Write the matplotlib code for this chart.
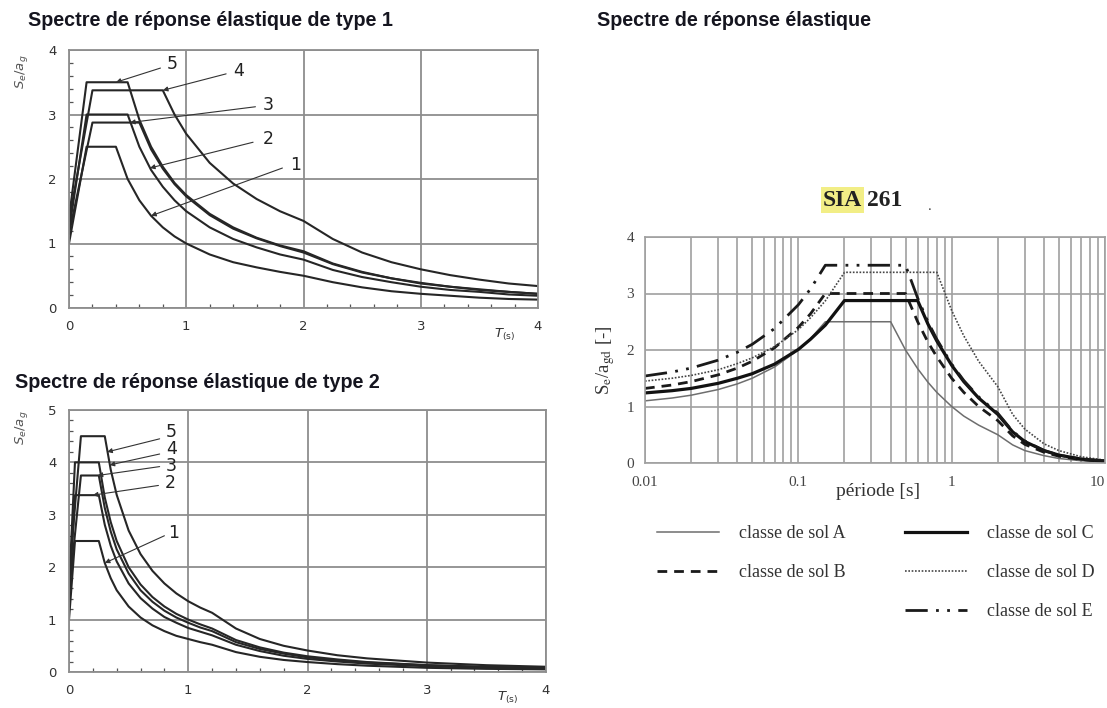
import matplotlib
matplotlib.use("Agg")
import matplotlib.pyplot as plt
from matplotlib.ticker import MultipleLocator, FixedLocator, FixedFormatter, NullFormatter, LogLocator
from matplotlib.lines import Line2D

# ---------------- data: Type 1 (top-left) ----------------
T1_1 = [0, 0.15, 0.4, 0.5, 0.6, 0.7, 0.8, 0.9, 1.0, 1.2, 1.4, 1.6, 1.8, 2.0, 2.25, 2.5, 2.75, 3.0, 3.25, 3.5, 3.75, 4.0]
S1_1 = [1.0, 2.5, 2.5, 2.0, 1.67, 1.43, 1.25, 1.11, 1.0, 0.83, 0.71, 0.63, 0.56, 0.5, 0.4, 0.32, 0.26, 0.22, 0.19, 0.16, 0.14, 0.13]
T1_2 = [0, 0.2, 0.6, 0.7, 0.8, 0.9, 1.0, 1.2, 1.4, 1.6, 1.8, 2.0, 2.25, 2.5, 2.75, 3.0, 3.25, 3.5, 3.75, 4.0]
S1_2 = [1.15, 2.875, 2.875, 2.46, 2.16, 1.92, 1.73, 1.44, 1.23, 1.08, 0.96, 0.86, 0.68, 0.55, 0.46, 0.38, 0.33, 0.28, 0.25, 0.22]
T1_3 = [0, 0.15, 0.5, 0.6, 0.7, 0.8, 0.9, 1.0, 1.2, 1.4, 1.6, 1.8, 2.0, 2.25, 2.5, 2.75, 3.0, 3.25, 3.5, 3.75, 4.0]
S1_3 = [1.2, 3.0, 3.0, 2.5, 2.14, 1.88, 1.67, 1.5, 1.25, 1.07, 0.94, 0.83, 0.75, 0.59, 0.48, 0.4, 0.33, 0.28, 0.25, 0.21, 0.19]
T1_4 = [0, 0.2, 0.8, 0.9, 1.0, 1.2, 1.4, 1.6, 1.8, 2.0, 2.25, 2.5, 2.75, 3.0, 3.25, 3.5, 3.75, 4.0]
S1_4 = [1.35, 3.375, 3.375, 3.0, 2.7, 2.25, 1.93, 1.69, 1.5, 1.35, 1.07, 0.86, 0.71, 0.6, 0.51, 0.44, 0.38, 0.34]
T1_5 = [0, 0.15, 0.5, 0.6, 0.7, 0.8, 0.9, 1.0, 1.2, 1.4, 1.6, 1.8, 2.0, 2.25, 2.5, 2.75, 3.0, 3.25, 3.5, 3.75, 4.0]
S1_5 = [1.4, 3.5, 3.5, 2.92, 2.5, 2.19, 1.94, 1.75, 1.46, 1.25, 1.09, 0.97, 0.88, 0.69, 0.56, 0.46, 0.39, 0.33, 0.29, 0.25, 0.22]

# ---------------- data: Type 2 (bottom-left) ----------------
T2_1 = [0, 0.05, 0.25, 0.3, 0.35, 0.4, 0.5, 0.6, 0.7, 0.8, 0.9, 1.0, 1.1, 1.2, 1.4, 1.6, 1.8, 2.0, 2.25, 2.5, 3.0, 3.5, 4.0]
S2_1 = [1.0, 2.5, 2.5, 2.08, 1.79, 1.56, 1.25, 1.04, 0.89, 0.78, 0.69, 0.63, 0.57, 0.52, 0.38, 0.29, 0.23, 0.19, 0.15, 0.12, 0.08, 0.06, 0.05]
T2_2 = [0, 0.05, 0.25, 0.3, 0.35, 0.4, 0.5, 0.6, 0.7, 0.8, 0.9, 1.0, 1.1, 1.2, 1.4, 1.6, 1.8, 2.0, 2.25, 2.5, 3.0, 3.5, 4.0]
S2_2 = [1.35, 3.375, 3.375, 2.81, 2.41, 2.11, 1.69, 1.41, 1.21, 1.05, 0.94, 0.84, 0.77, 0.7, 0.52, 0.4, 0.31, 0.25, 0.2, 0.16, 0.11, 0.08, 0.06]
T2_3 = [0, 0.1, 0.25, 0.3, 0.35, 0.4, 0.5, 0.6, 0.7, 0.8, 0.9, 1.0, 1.1, 1.2, 1.4, 1.6, 1.8, 2.0, 2.25, 2.5, 3.0, 3.5, 4.0]
S2_3 = [1.5, 3.75, 3.75, 3.13, 2.68, 2.34, 1.88, 1.56, 1.34, 1.17, 1.04, 0.94, 0.85, 0.78, 0.57, 0.44, 0.35, 0.28, 0.22, 0.18, 0.13, 0.09, 0.07]
T2_4 = [0, 0.05, 0.25, 0.3, 0.35, 0.4, 0.5, 0.6, 0.7, 0.8, 0.9, 1.0, 1.1, 1.2, 1.4, 1.6, 1.8, 2.0, 2.25, 2.5, 3.0, 3.5, 4.0]
S2_4 = [1.6, 4.0, 4.0, 3.33, 2.86, 2.5, 2.0, 1.67, 1.43, 1.25, 1.11, 1.0, 0.91, 0.83, 0.61, 0.47, 0.37, 0.3, 0.24, 0.19, 0.13, 0.1, 0.08]
T2_5 = [0, 0.1, 0.3, 0.35, 0.4, 0.5, 0.6, 0.7, 0.8, 0.9, 1.0, 1.1, 1.2, 1.4, 1.6, 1.8, 2.0, 2.25, 2.5, 3.0, 3.5, 4.0]
S2_5 = [1.8, 4.5, 4.5, 3.86, 3.38, 2.7, 2.25, 1.93, 1.69, 1.5, 1.35, 1.23, 1.13, 0.83, 0.63, 0.5, 0.41, 0.32, 0.26, 0.18, 0.13, 0.1]

# ---------------- data: SIA 261 (right, log x) ----------------
TA = [0.01, 0.015, 0.02, 0.03, 0.04, 0.05, 0.07, 0.1, 0.12, 0.15, 0.4, 0.5, 0.6, 0.7, 0.8, 1.0, 1.2, 1.5, 2.0, 2.5, 3.0, 4.0, 5.0, 7.0, 10.0]
SA = [1.1, 1.15, 1.2, 1.3, 1.4, 1.5, 1.7, 2.0, 2.2, 2.5, 2.5, 2.0, 1.67, 1.43, 1.25, 1.0, 0.83, 0.67, 0.5, 0.32, 0.22, 0.13, 0.08, 0.04, 0.02]
TB = [0.01, 0.015, 0.02, 0.03, 0.04, 0.05, 0.07, 0.1, 0.12, 0.15, 0.5, 0.6, 0.7, 0.8, 1.0, 1.2, 1.5, 2.0, 2.5, 3.0, 4.0, 5.0, 7.0, 10.0]
SB = [1.32, 1.38, 1.44, 1.56, 1.68, 1.8, 2.04, 2.4, 2.64, 3.0, 3.0, 2.5, 2.14, 1.88, 1.5, 1.25, 1.0, 0.75, 0.48, 0.33, 0.19, 0.12, 0.06, 0.03]
TC = [0.01, 0.015, 0.02, 0.03, 0.04, 0.05, 0.07, 0.1, 0.12, 0.15, 0.2, 0.6, 0.7, 0.8, 1.0, 1.2, 1.5, 2.0, 2.5, 3.0, 4.0, 5.0, 7.0, 10.0]
SC = [1.24, 1.28, 1.32, 1.41, 1.5, 1.58, 1.75, 2.01, 2.19, 2.44, 2.875, 2.875, 2.46, 2.16, 1.73, 1.44, 1.15, 0.86, 0.55, 0.38, 0.22, 0.14, 0.07, 0.03]
TD = [0.01, 0.015, 0.02, 0.03, 0.04, 0.05, 0.07, 0.1, 0.12, 0.15, 0.2, 0.8, 1.0, 1.2, 1.5, 2.0, 2.5, 3.0, 4.0, 5.0, 7.0, 10.0]
SD = [1.45, 1.5, 1.55, 1.65, 1.76, 1.86, 2.06, 2.36, 2.57, 2.87, 3.375, 3.375, 2.7, 2.25, 1.8, 1.35, 0.86, 0.6, 0.34, 0.22, 0.11, 0.05]
TE = [0.01, 0.015, 0.02, 0.03, 0.04, 0.05, 0.07, 0.1, 0.12, 0.15, 0.5, 0.6, 0.7, 0.8, 1.0, 1.2, 1.5, 2.0, 2.5, 3.0, 4.0, 5.0, 7.0, 10.0]
SE = [1.54, 1.61, 1.68, 1.82, 1.96, 2.1, 2.38, 2.8, 3.08, 3.5, 3.5, 2.92, 2.5, 2.19, 1.75, 1.46, 1.17, 0.88, 0.56, 0.39, 0.22, 0.14, 0.07, 0.04]

SIA_LABELS = ["classe de sol A", "classe de sol B", "classe de sol C", "classe de sol D", "classe de sol E"]
XTICK_R = [0.01, 0.1, 1, 10]
XTICK_R_LBL = ["0.01", "0.1", "1", "10"]

# curve labels: (label, arrow tip (T, S), arrow start (T, S), text position (T, S))
ANN1 = [("5", (0.40, 3.5), (0.78, 3.72), (0.88, 3.78)),
        ("4", (0.80, 3.375), (1.34, 3.63), (1.45, 3.68)),
        ("3", (0.52, 2.875), (1.59, 3.12), (1.70, 3.15)),
        ("2", (0.69, 2.17), (1.57, 2.57), (1.70, 2.62)),
        ("1", (0.70, 1.43), (1.82, 2.17), (1.93, 2.22))]
ANN2 = [("5", (0.32, 4.2), (0.76, 4.45), (0.86, 4.58)),
        ("4", (0.34, 3.95), (0.76, 4.16), (0.86, 4.26)),
        ("3", (0.24, 3.75), (0.76, 3.92), (0.86, 3.94)),
        ("2", (0.20, 3.375), (0.75, 3.56), (0.85, 3.60)),
        ("1", (0.30, 2.08), (0.80, 2.60), (0.88, 2.66))]

W, H = 1107, 708
fig = plt.figure(figsize=(W / 100, H / 100), dpi=100)


def add_ax(l, t, r, b):
    return fig.add_axes([l / W, 1 - b / H, (r - l) / W, (b - t) / H])


def px(x, y):
    return (x / W, 1 - y / H)


TITLE_KW = dict(fontfamily="Liberation Sans", fontweight="bold", fontsize=14.2, va="center", ha="left", color="#15151f")
fig.text(*px(28, 21), "Spectre de réponse élastique de type 1", **TITLE_KW)
fig.text(*px(15, 382), "Spectre de réponse élastique de type 2", **TITLE_KW)
fig.text(*px(597, 21), "Spectre de réponse élastique", **TITLE_KW)

GRID_C = "#8e8e8e"


def left_panel(ax, ymax, series, ann):
    for T, S in series:
        ax.plot(T, S, color="#262626", lw=1.5)
    ax.set_xlim(0, 4)
    ax.set_ylim(0, ymax)
    ax.xaxis.set_major_locator(MultipleLocator(1))
    ax.yaxis.set_major_locator(MultipleLocator(1))
    ax.xaxis.set_minor_locator(MultipleLocator(0.2))
    ax.yaxis.set_minor_locator(MultipleLocator(0.2))
    ax.tick_params(which="minor", direction="in", length=3, width=0.9, color="#555")
    ax.tick_params(which="major", direction="in", length=0, labelsize=9.5, labelcolor="#333", pad=9)
    ax.grid(which="major", color=GRID_C, lw=1.3)
    ax.set_axisbelow(True)
    for sp in ax.spines.values():
        sp.set_color(GRID_C)
        sp.set_linewidth(1.3)
    for lab, tip, start, tpos in ann:
        ax.annotate("", xy=tip, xytext=start,
                    arrowprops=dict(arrowstyle="-|>", color="#333", lw=0.8, mutation_scale=7,
                                    shrinkA=0, shrinkB=0))
        ax.text(tpos[0], tpos[1], lab, fontsize=12.5, ha="center", va="center", color="#222",
                fontfamily="DejaVu Sans")


ax1 = add_ax(69, 50, 538, 308)
left_panel(ax1, 4, [(T1_1, S1_1), (T1_2, S1_2), (T1_3, S1_3), (T1_4, S1_4), (T1_5, S1_5)], ANN1)
ax2 = add_ax(69, 410, 546, 672)
left_panel(ax2, 5, [(T2_1, S2_1), (T2_2, S2_2), (T2_3, S2_3), (T2_4, S2_4), (T2_5, S2_5)], ANN2)

for (x, y) in [(22, 72), (22, 428)]:
    fig.text(*px(x, y), r"$S_e/a_g$", rotation=90, fontsize=9.5, color="#555", ha="center", va="center")
for (x, y) in [(505, 335), (508, 698)]:
    fig.text(*px(x, y), r"$T_{(\mathrm{s})}$", fontsize=9.5, color="#333", ha="center", va="center")

# ---------------- right panel ----------------
axR = add_ax(645, 237, 1105, 463)
STY = [dict(color="#6e6e6e", lw=1.1, ls="-"),
       dict(color="#1a1a1a", lw=2.0, ls=(0, (3.5, 2.5))),
       dict(color="#111111", lw=2.3, ls="-"),
       dict(color="#444444", lw=1.2, ls=(0, (1, 1))),
       dict(color="#1a1a1a", lw=2.0, ls=(0, (8, 3, 1, 3, 1, 3)))]
handles = []
for (T, S), sty, lab in zip([(TA, SA), (TB, SB), (TC, SC), (TD, SD), (TE, SE)], STY, SIA_LABELS):
    h, = axR.plot(T, S, label=lab, **sty)
    handles.append(h)
axR.set_xscale("log")
axR.set_xlim(0.01, 10)
axR.set_ylim(0, 4)
axR.xaxis.set_major_locator(FixedLocator(XTICK_R))
axR.xaxis.set_major_formatter(FixedFormatter(XTICK_R_LBL))
axR.xaxis.set_minor_locator(LogLocator(base=10, subs=range(2, 10)))
axR.xaxis.set_minor_formatter(NullFormatter())
axR.yaxis.set_major_locator(MultipleLocator(1))
axR.tick_params(which="both", length=0, labelsize=11, labelcolor="#444", labelfontfamily="Liberation Serif")
axR.tick_params(axis="x", pad=9)
axR.tick_params(axis="y", pad=8)
axR.grid(which="both", axis="x", color="#a0a0a0", lw=1.2)
axR.grid(which="major", axis="y", color="#a0a0a0", lw=1.2)
axR.set_axisbelow(True)
for sp in axR.spines.values():
    sp.set_color("#a0a0a0")
    sp.set_linewidth(1.2)
fig.canvas.draw()
xt = axR.get_xticklabels()
xt[-1].set_ha("right")

fig.text(*px(606, 360), r"S$_{\rm e}$/a$_{\rm gd}$ [-]", rotation=90, fontsize=13.5, fontfamily="Liberation Serif",
         math_fontfamily="stix", color="#333", ha="center", va="center")
fig.text(*px(878, 492), "période [s]", fontsize=14, fontfamily="Liberation Serif", color="#333",
         ha="center", va="center")

fig.text(*px(862, 200), "SIA", fontsize=17, fontweight="bold", fontfamily="Liberation Serif", color="#222",
         ha="right", va="center", bbox=dict(facecolor="#f2ee86", edgecolor="none", pad=1.5))
fig.text(*px(867, 200), "261", fontsize=17, fontweight="bold", fontfamily="Liberation Serif", color="#222",
         ha="left", va="center")
fig.text(*px(930, 206), ".", fontsize=11, fontfamily="Liberation Serif", color="#444", ha="center", va="center")

blank = Line2D([], [], alpha=0)
leg_h = [handles[0], handles[1], blank, handles[2], handles[3], handles[4]]
leg_l = [SIA_LABELS[0], SIA_LABELS[1], "", SIA_LABELS[2], SIA_LABELS[3], SIA_LABELS[4]]
fig.legend(leg_h, leg_l, ncol=2, loc="upper left", bbox_to_anchor=px(657, 525), frameon=False,
           prop=dict(family="Liberation Serif", size=13), labelcolor="#333",
           handlelength=3.43, handletextpad=1.1, columnspacing=3.3, labelspacing=1.23,
           borderpad=0, borderaxespad=0)

fig.savefig("out.png", dpi=100)
